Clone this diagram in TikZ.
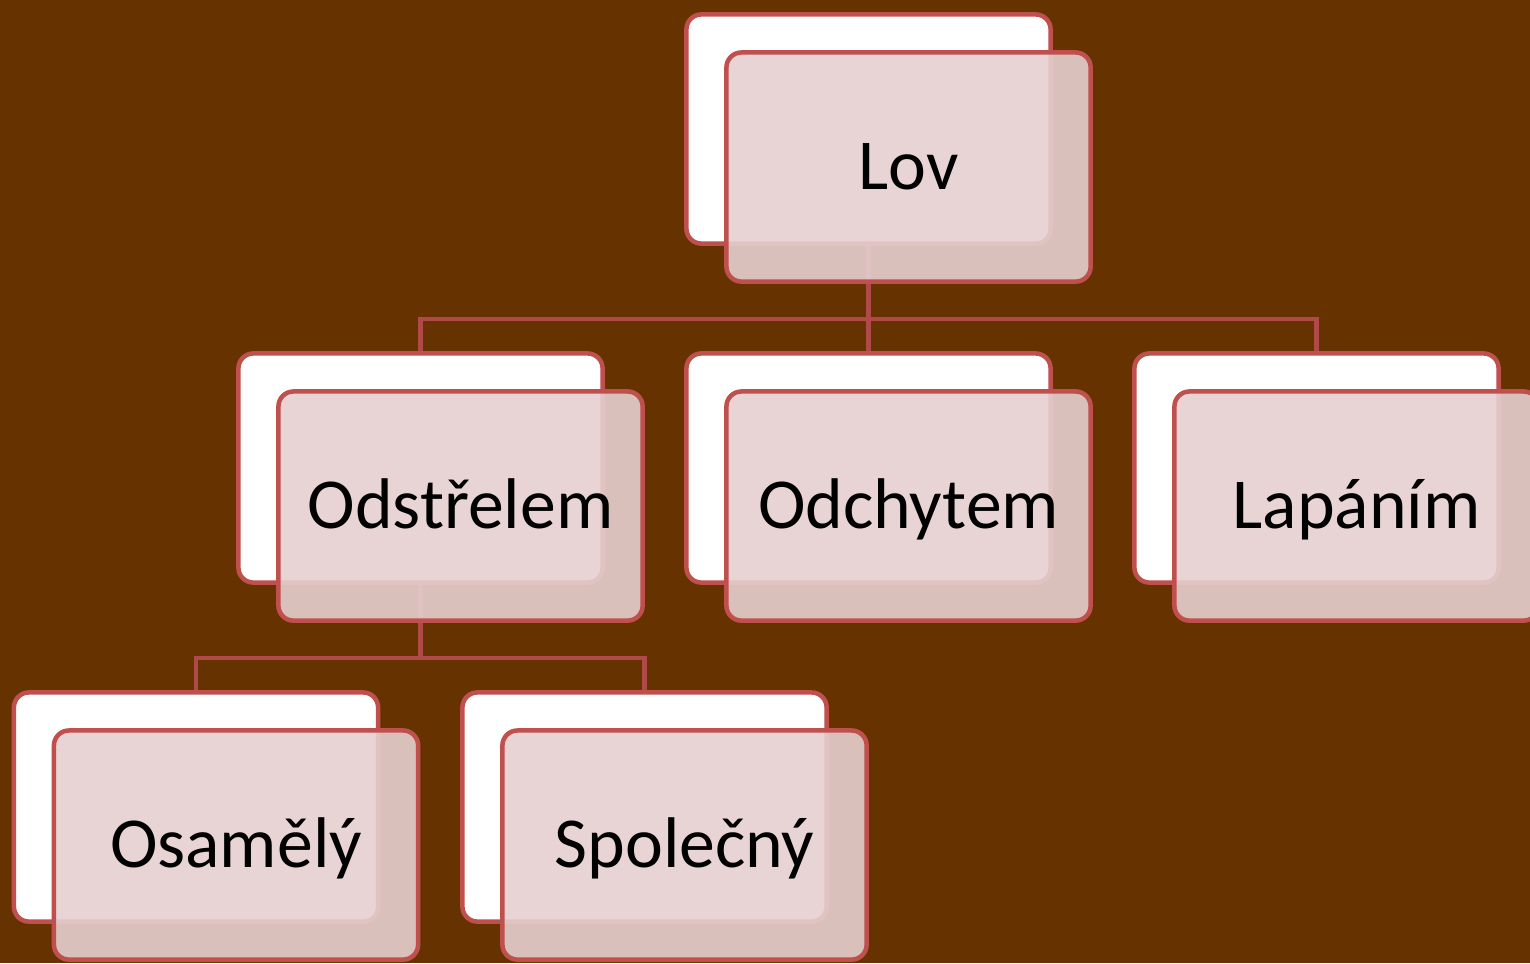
\documentclass[tikz,border=0pt]{standalone}
\usepackage{fontspec}
\setmainfont{Carlito}
\usepackage{tikz}
\usetikzlibrary{positioning, calc}

\definecolor{bgbrown}{HTML}{663300}
\definecolor{boxred}{HTML}{C0504D}
\definecolor{linkred}{HTML}{B04A4A}
\definecolor{boxpink}{RGB}{230,208,208}

\begin{document}
\begin{tikzpicture}[x=0.01cm, y=-0.01cm,
  backbox/.style={draw=boxred, fill=white, line width=0.045cm, rounded corners=0.15cm,
    minimum width=3.64cm, minimum height=2.29cm, inner sep=0pt},
  frontbox/.style={backbox, fill=boxpink, fill opacity=0.9, text opacity=1,
    font=\fontsize{20.4}{24}\selectfont, text height=0.45cm, text depth=0pt},
  link/.style={draw=linkred, line width=0.045cm}]

  \fill[bgbrown] (0,0) rectangle (1530,963);
  \useasboundingbox (0,0) rectangle (1530,963);

  % back cards
  \node[backbox] (lov) at (868.5,129) {};
  \node[backbox] (odstrelem) at (420.5,468) {};
  \node[backbox] (odchytem) at (868.5,468) {};
  \node[backbox] (lapanim) at (1316.5,468) {};
  \node[backbox] (osamely) at (196,807) {};
  \node[backbox] (spolecny) at (644.5,807) {};

  % tree lines
  \draw[link] (lov.south) -- ++(0,73) coordinate (lovfork) -| (odstrelem.north);
  \draw[link] (lovfork) -| (lapanim.north);
  \draw[link] (lovfork) -- (odchytem.north);
  \draw[link] (odstrelem.south) -- ++(0,73) coordinate (odstfork) -| (osamely.north);
  \draw[link] (odstfork) -| (spolecny.north);

  % front cards with the text
  \foreach \n/\t in {lov/Lov, odstrelem/Odstřelem, odchytem/Odchytem,
    lapanim/Lapáním, osamely/Osamělý, spolecny/Společný}
    \node[frontbox, xshift=0.4cm, yshift=-0.38cm] (\n-front) at (\n) {\t};
\end{tikzpicture}
\end{document}
